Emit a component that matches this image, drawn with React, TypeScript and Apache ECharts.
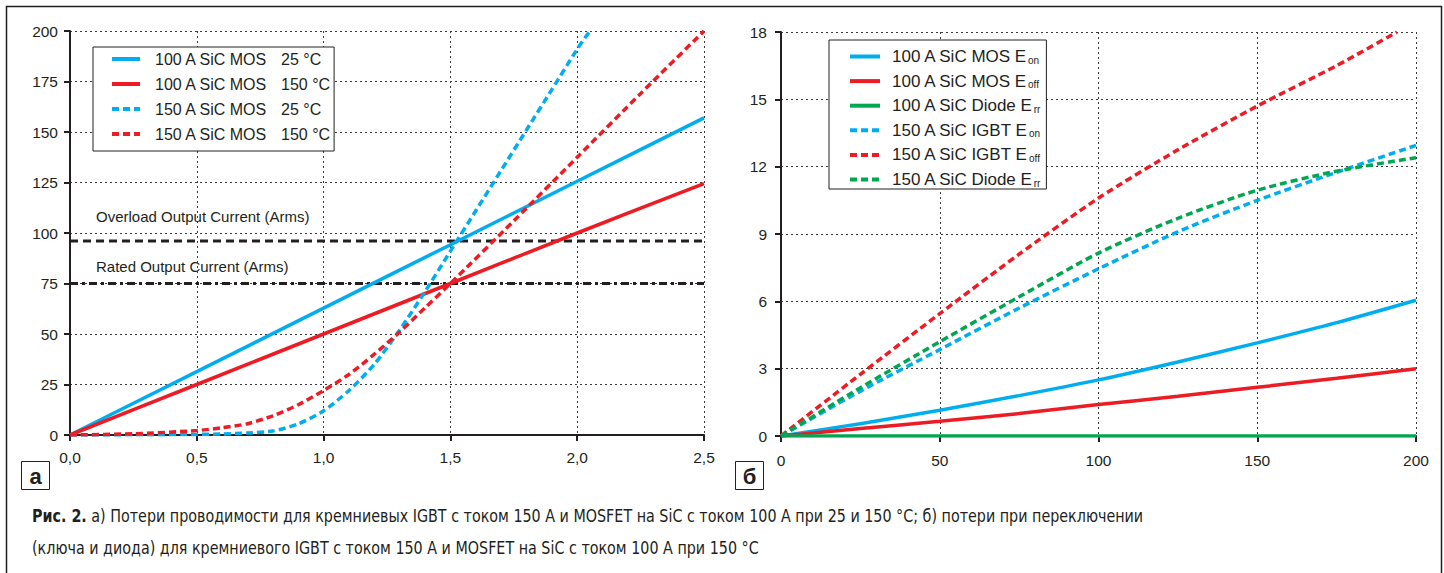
import React, { useEffect, useRef } from "react";
import * as echarts from "echarts";

// ---------- Data: panel (a) ----------
const mos100_25_x = [0, 0.5, 1.0, 1.5, 2.0, 2.5];
const mos100_25_y = [0, 31.4, 62.8, 94.2, 125.6, 157];
const mos100_150_x = [0, 0.5, 1.0, 1.5, 2.0, 2.5];
const mos100_150_y = [0, 25, 50, 75, 100, 124.5];
const mos150_25_x = [0, 0.3, 0.5, 0.6, 0.7, 0.8, 0.9, 1.0, 1.1, 1.2, 1.3, 1.4, 1.5, 1.6, 1.7, 1.8, 1.9, 2.0, 2.05];
const mos150_25_y = [0, 0.1, 0.3, 0.5, 1.0, 2.0, 5.5, 12, 22, 35, 52, 71, 91, 111, 131, 151, 171, 191, 200];
const mos150_150_x = [0, 0.25, 0.5, 0.6, 0.7, 0.8, 0.9, 1.0, 1.1, 1.2, 1.3, 1.4, 1.5, 1.75, 2.0, 2.25, 2.5];
const mos150_150_y = [0, 0.6, 2.2, 3.6, 5.6, 9.5, 15, 22, 30, 40, 51, 63, 75, 106, 137.5, 169, 200];
const overloadLevel = 96;
const ratedLevel = 75;
const aXRange = [0, 2.5];

// ---------- Data: panel (б) ----------
const bX = [0, 25, 50, 75, 100, 125, 150, 175, 200];
const mosEon = [0, 0.55, 1.15, 1.8, 2.5, 3.3, 4.15, 5.05, 6.05];
const mosEoff = [0, 0.33, 0.66, 1.0, 1.4, 1.77, 2.17, 2.57, 3.0];
const diode100Err = [0, 0, 0, 0, 0, 0, 0, 0, 0];
const igbtEon = [0, 2.0, 3.85, 5.7, 7.45, 9.1, 10.5, 11.75, 12.95];
const igbtEoffX = [0, 25, 50, 75, 100, 125, 150, 175, 194];
const igbtEoff = [0, 2.75, 5.45, 8.1, 10.6, 12.75, 14.7, 16.5, 18];
const diode150Err = [0, 2.15, 4.2, 6.2, 8.15, 9.7, 10.95, 11.8, 12.4];

const legendA = ["100 A SiC MOS|25 °C", "100 A SiC MOS|150 °C", "150 A SiC MOS|25 °C", "150 A SiC MOS|150 °C"];
const legendB = ["100 A SiC MOS E|on", "100 A SiC MOS E|off", "100 A SiC Diode E|rr", "150 A SiC IGBT E|on", "150 A SiC IGBT E|off", "150 A SiC Diode E|rr"];

const BLUE = "#00AEEF";
const RED = "#ED1C24";
const GREEN = "#00A651";
const INK = "#231F20";
const FONT = '"Liberation Sans", Arial, sans-serif';
const CAPFONT = '"DejaVu Sans Condensed", "Liberation Sans", sans-serif';

const zip = (xs: number[], ys: number[]) => xs.map((x, i) => [x, ys[i]]);

function axis(min: number, max: number, interval: number, margin: number, fmt?: (v: number) => string, idx?: number) {
  return {
    type: "value",
    gridIndex: idx,
    min,
    max,
    interval,
    axisLine: { show: true, onZero: false, lineStyle: { color: INK, width: 2 } },
    axisTick: { show: true, length: 6, lineStyle: { color: INK, width: 2 } },
    axisLabel: { fontSize: 15.5, color: INK, fontFamily: FONT, margin, formatter: fmt },
    splitLine: { show: true, lineStyle: { color: "#3a3a3a", width: 1, type: [2, 3] } },
  };
}

function line(name: string, data: number[][], color: string, dashed: boolean, ai: number, z = 3) {
  return {
    type: "line",
    name,
    data,
    xAxisIndex: ai,
    yAxisIndex: ai,
    showSymbol: false,
    symbol: "none",
    smooth: 0.25,
    z,
    lineStyle: { color, width: 3.5, type: dashed ? [7, 4] : "solid" },
    itemStyle: { color },
  };
}

export default function App() {
  const ref = useRef<HTMLDivElement>(null);
  useEffect(() => {
    if (!ref.current) return;
    const chart = echarts.init(ref.current, null, { renderer: "svg" });
    const option: any = {
      animation: false,
      backgroundColor: "#ffffff",
      grid: [
        { left: 70, top: 31, width: 634, height: 404, show: false },
        { left: 781, top: 32, width: 635, height: 404, show: false },
      ],
      xAxis: [
        axis(aXRange[0], aXRange[1], 0.5, 14, (v: number) => v.toFixed(1).replace(".", ","), 0),
        axis(0, 200, 50, 16, undefined, 1),
      ],
      yAxis: [axis(0, 200, 25, 12, undefined, 0), axis(0, 18, 3, 14, undefined, 1)],
      legend: [
        {
          left: 93,
          top: 47,
          orient: "vertical",
          selectedMode: false,
          data: legendA,
          itemWidth: 28,
          itemHeight: 12,
          itemGap: 9,
          padding: [4, 4, 9, 17],
          borderColor: INK,
          borderWidth: 1,
          backgroundColor: "#fff",
          itemStyle: { opacity: 0 },
          lineStyle: { width: 4 },
          formatter: (n: string) => {
            const [a, b] = n.split("|");
            return `{a|${a}}{b|${b}}`;
          },
          textStyle: {
            fontSize: 16,
            color: INK,
            fontFamily: FONT,
            rich: {
              a: { fontSize: 16, color: INK, fontFamily: FONT, width: 126, lineHeight: 16, padding: [0, 0, 0, 10] },
              b: { fontSize: 16, color: INK, fontFamily: FONT, lineHeight: 16 },
            },
          },
        },
        {
          left: 829,
          top: 40,
          orient: "vertical",
          selectedMode: false,
          data: legendB,
          itemWidth: 30,
          itemHeight: 12,
          itemGap: 7.6,
          padding: [8, 6, 1, 19],
          borderColor: INK,
          borderWidth: 1,
          backgroundColor: "#fff",
          itemStyle: { opacity: 0 },
          lineStyle: { width: 4 },
          formatter: (n: string) => {
            const [a, b] = n.split("|");
            return `{a|${a}}{s|${b}}`;
          },
          textStyle: {
            fontSize: 17,
            color: INK,
            fontFamily: FONT,
            rich: {
              a: { fontSize: 17, color: INK, fontFamily: FONT, lineHeight: 17, padding: [0, 0, 0, 7] },
              s: { fontSize: 10, color: INK, fontFamily: FONT, lineHeight: 8, verticalAlign: "bottom" },
            },
          },
        },
      ],
      series: [
        line(legendA[0], zip(mos100_25_x, mos100_25_y), BLUE, false, 0),
        line(legendA[1], zip(mos100_150_x, mos100_150_y), RED, false, 0),
        line(legendA[2], zip(mos150_25_x, mos150_25_y), BLUE, true, 0),
        line(legendA[3], zip(mos150_150_x, mos150_150_y), RED, true, 0),
        {
          type: "line",
          name: "Overload",
          data: aXRange.map((x) => [x, overloadLevel]),
          xAxisIndex: 0,
          yAxisIndex: 0,
          symbol: "none",
          z: 2,
          lineStyle: { color: INK, width: 3, type: [8, 5] },
        },
        {
          type: "line",
          name: "Rated",
          data: aXRange.map((x) => [x, ratedLevel]),
          xAxisIndex: 0,
          yAxisIndex: 0,
          symbol: "none",
          z: 2,
          lineStyle: { color: INK, width: 3, type: [8, 4, 3, 4] },
        },
        line(legendB[0], zip(bX, mosEon), BLUE, false, 1),
        line(legendB[1], zip(bX, mosEoff), RED, false, 1),
        line(legendB[2], zip(bX, diode100Err), GREEN, false, 1),
        line(legendB[3], zip(bX, igbtEon), BLUE, true, 1),
        line(legendB[4], zip(igbtEoffX, igbtEoff), RED, true, 1),
        line(legendB[5], zip(bX, diode150Err), GREEN, true, 1),
      ],
      graphic: [
        {
          type: "rect",
          shape: { x: 6.5, y: 6.5, width: 1435, height: 620 },
          style: { fill: "none", stroke: INK, lineWidth: 1.5 },
          silent: true,
          z: -1,
        },
        {
          type: "text",
          x: 96,
          y: 216,
          style: { text: "Overload Output Current (Arms)", fontSize: 15, fontFamily: FONT, fill: INK, verticalAlign: "middle" },
        },
        {
          type: "text",
          x: 96,
          y: 266,
          style: { text: "Rated Output Current (Arms)", fontSize: 15, fontFamily: FONT, fill: INK, verticalAlign: "middle" },
        },
        {
          type: "rect",
          shape: { x: 21.5, y: 461.5, width: 28, height: 28 },
          style: { fill: "#fff", stroke: INK, lineWidth: 1 },
        },
        {
          type: "text",
          x: 35.5,
          y: 476,
          style: { text: "а", fontSize: 22, fontWeight: "bold", fontFamily: FONT, fill: INK, align: "center", verticalAlign: "middle" },
        },
        {
          type: "rect",
          shape: { x: 735.5, y: 461.5, width: 28, height: 28 },
          style: { fill: "#fff", stroke: INK, lineWidth: 1 },
        },
        {
          type: "text",
          x: 749.5,
          y: 476,
          style: { text: "б", fontSize: 22, fontWeight: "bold", fontFamily: FONT, fill: INK, align: "center", verticalAlign: "middle" },
        },
        {
          type: "text",
          x: 32,
          y: 516,
          scaleX: 0.86,
          style: {
            text: "{b|Рис. 2.} а) Потери проводимости для кремниевых IGBT с током 150 А и MOSFET на SiC с током 100 А при 25 и 150 °С; б) потери при переключении",
            fontSize: 18.5,
            fontFamily: CAPFONT,
            fill: INK,
            verticalAlign: "middle",
            rich: { b: { fontSize: 18.5, fontFamily: CAPFONT, fontWeight: "bold", fill: INK } },
          },
        },
        {
          type: "text",
          x: 32,
          y: 548,
          scaleX: 0.86,
          style: {
            text: "(ключа и диода) для кремниевого IGBT с током 150 А и MOSFET на SiC с током 100 А при 150 °С",
            fontSize: 18.5,
            fontFamily: CAPFONT,
            fill: INK,
            verticalAlign: "middle",
          },
        },
      ],
    };
    chart.setOption(option);
    return () => chart.dispose();
  }, []);
  return (
    <div
      ref={ref}
      style={{ position: "fixed", left: 0, top: 0, width: 1444, height: 573, background: "#fff" }}
    />
  );
}
